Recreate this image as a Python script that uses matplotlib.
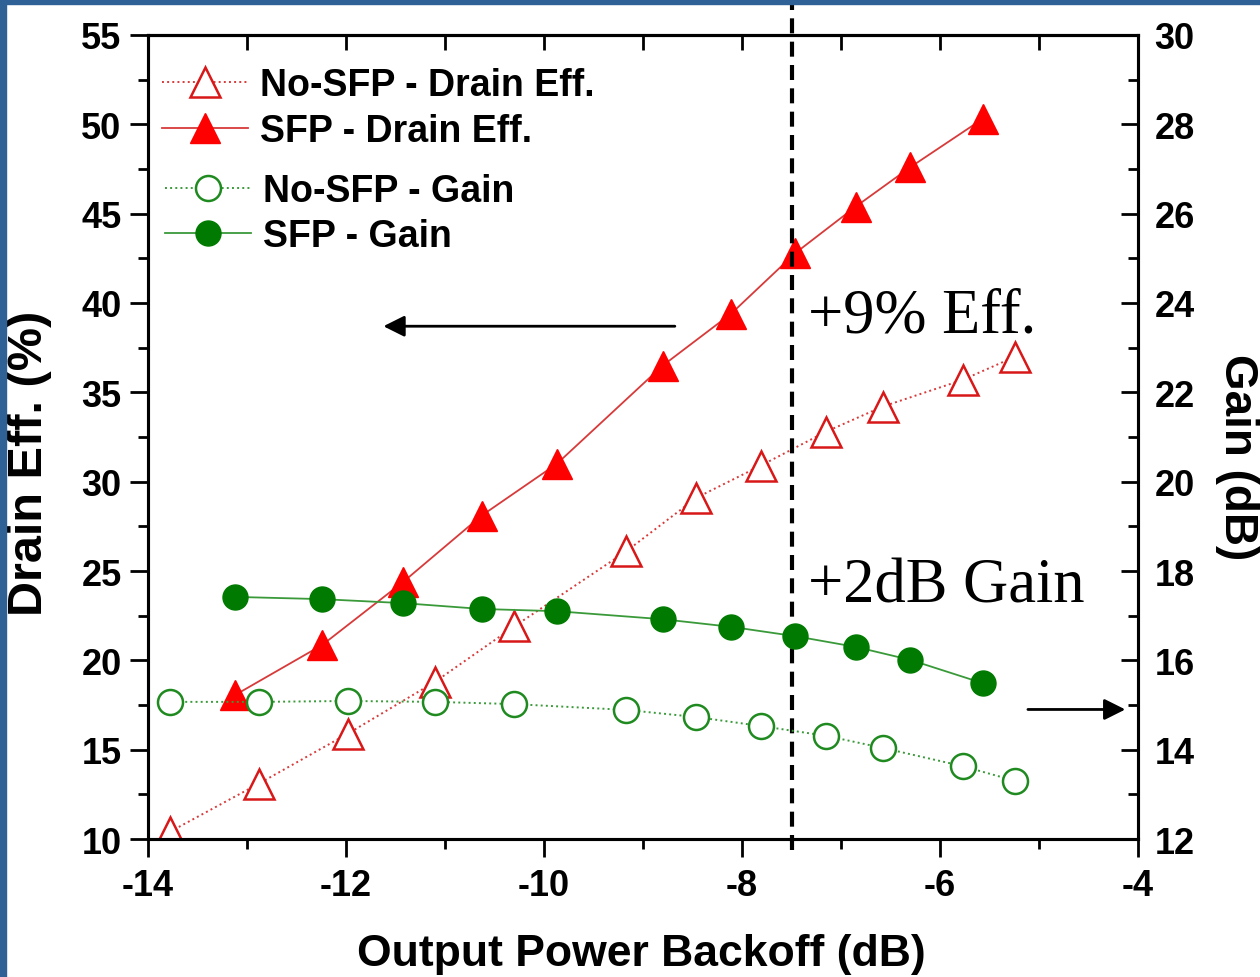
import matplotlib
matplotlib.use('Agg')
import matplotlib.pyplot as plt
from matplotlib.patches import Rectangle
from matplotlib.ticker import MultipleLocator

plt.rcParams['font.family'] = 'Liberation Sans'
plt.rcParams['font.weight'] = 'bold'
plt.rcParams['axes.unicode_minus'] = False

# data
x_nosfp = [-13.78, -12.88, -11.98, -11.10, -10.30, -9.17, -8.46, -7.81, -7.15, -6.58, -5.77, -5.24]
eff_nosfp = [10.4, 13.1, 15.9, 18.8, 21.9, 26.1, 29.1, 30.9, 32.8, 34.2, 35.7, 37.0]
gain_nosfp = [15.07, 15.07, 15.09, 15.07, 15.02, 14.89, 14.73, 14.53, 14.31, 14.04, 13.63, 13.30]

x_sfp = [-13.12, -12.24, -11.42, -10.63, -9.87, -8.80, -8.11, -7.46, -6.85, -6.30, -5.57]
eff_sfp = [18.06, 20.86, 24.4, 28.1, 31.0, 36.5, 39.4, 42.8, 45.4, 47.6, 50.3]
gain_sfp = [17.42, 17.37, 17.28, 17.15, 17.10, 16.92, 16.75, 16.54, 16.30, 16.01, 15.49]

x_line = -7.5

fig = plt.figure(figsize=(12.6, 9.78), dpi=100)
ax = fig.add_axes([148/1260, 1-840/978, 990/1260, 804/978])
ax2 = ax.twinx()

red = '#ff0000'
red_line = '#d83a3a'
green = '#007a00'
green_line = '#3a9a3a'

l1, = ax.plot(x_nosfp, eff_nosfp, ls=':', lw=1.4, color=red_line, marker='^', ms=21,
              mfc='white', mec='#d81818', mew=1.8, label='No-SFP - Drain Eff.')
l2, = ax.plot(x_sfp, eff_sfp, ls='-', lw=1.3, color=red_line, marker='^', ms=21,
              mfc=red, mec=red, label='SFP - Drain Eff.')
l3, = ax2.plot(x_nosfp, gain_nosfp, ls=':', lw=1.4, color=green_line, marker='o', ms=18,
               mfc='white', mec='#1f8a1f', mew=1.8, label='No-SFP - Gain')
l4, = ax2.plot(x_sfp, gain_sfp, ls='-', lw=1.3, color=green_line, marker='o', ms=18,
               mfc=green, mec=green, label='SFP - Gain')

ax.set_xlim(-14, -4)
ax.set_ylim(10, 55)
ax2.set_ylim(12, 30)

ax.xaxis.set_major_locator(MultipleLocator(2))
ax.xaxis.set_minor_locator(MultipleLocator(1))
ax.yaxis.set_major_locator(MultipleLocator(5))
ax.yaxis.set_minor_locator(MultipleLocator(2.5))
ax2.yaxis.set_major_locator(MultipleLocator(2))
ax2.yaxis.set_minor_locator(MultipleLocator(1))

ax.tick_params(axis='both', which='major', direction='out', length=13, width=2,
               labelsize=26, pad=6, top=False, right=False)
ax.tick_params(axis='x', which='major', pad=8)
ax.tick_params(axis='both', which='minor', direction='out', length=7, width=2,
               top=False, right=False)
ax2.tick_params(axis='y', which='major', direction='in', length=12, width=2, labelsize=26, pad=12)
ax2.tick_params(axis='y', which='minor', direction='in', length=7, width=2)

# top ticks point inward
sec = ax.secondary_xaxis('top')
sec.xaxis.set_major_locator(MultipleLocator(2))
sec.xaxis.set_minor_locator(MultipleLocator(1))
sec.tick_params(which='major', direction='in', length=11, width=2, labeltop=False)
sec.tick_params(which='minor', direction='in', length=11, width=2)
sec.spines['top'].set_linewidth(2.2)

for a in (ax, ax2):
    for s in a.spines.values():
        s.set_linewidth(2.2)

ax.set_xlabel('Output Power Backoff (dB)', fontsize=32, fontweight='bold')
ax.set_ylabel('Drain Eff. (%)', fontsize=35, fontweight='bold')
ax2.set_ylabel('Gain (dB)', fontsize=33, fontweight='bold', rotation=270)
ax.xaxis.set_label_coords(0.498, -0.117)
ax.yaxis.set_label_coords(-0.097, 0.468)
ax2.yaxis.set_label_coords(1.122, 0.476)

# vertical dashed marker line, runs past the frame at the top
ax.plot([x_line, x_line], [9.4, 57.2], color='black', lw=3, ls=(0, (3.6, 2.0)), clip_on=False)

ax.text(-7.33, 38.4, '+9% Eff.', family='Liberation Serif', fontweight='normal', fontsize=45)
ax.text(-7.33, 23.3, '+2dB Gain', family='Liberation Serif', fontweight='normal', fontsize=45)

ax.annotate('', xy=(-11.65, 38.7), xytext=(-8.65, 38.7),
            arrowprops=dict(arrowstyle='-|>', lw=2, color='black', mutation_scale=32))
ax2.annotate('', xy=(-4.1, 14.9), xytext=(-5.14, 14.9),
             arrowprops=dict(arrowstyle='-|>', lw=2, color='black', mutation_scale=32))

leg1 = ax2.legend(handles=[l1, l2], loc='upper left', bbox_to_anchor=(-0.016, 0.997),
                  frameon=False, fontsize=27, handlelength=2.3, handletextpad=0.3,
                  labelspacing=0.25, borderpad=0.3)
ax2.add_artist(leg1)
ax2.legend(handles=[l3, l4], loc='upper left', bbox_to_anchor=(-0.013, 0.866),
           frameon=False, fontsize=27, handlelength=2.3, handletextpad=0.3,
           labelspacing=0.25, borderpad=0.3)

# blue slide frame on left and top
fig.patches.append(Rectangle((0, 0), 6/1260, 1, transform=fig.transFigure,
                             color='#2f6196', zorder=10))
fig.patches.append(Rectangle((0, 1-5/978), 1, 5/978, transform=fig.transFigure,
                             color='#2f6196', zorder=10))

fig.savefig('out.png', dpi=100)
